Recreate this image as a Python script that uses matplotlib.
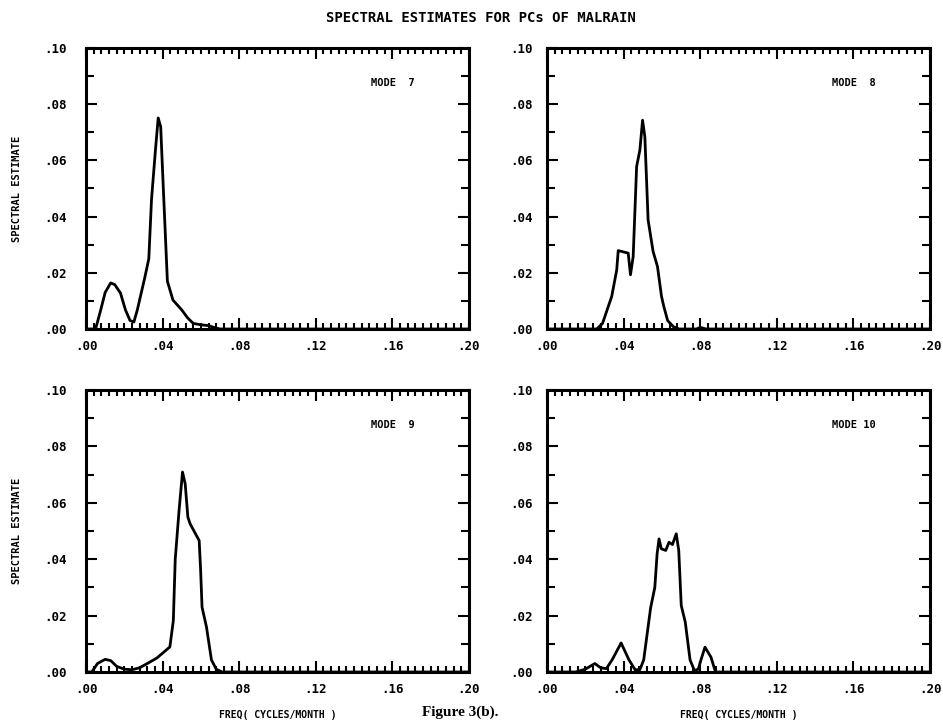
import matplotlib
matplotlib.use('Agg')
import matplotlib.pyplot as plt
import numpy as np
from matplotlib.ticker import MultipleLocator, FuncFormatter

# spectral estimates (freq in cycles/month)
freq7 = [0.000, 0.005, 0.0077, 0.010, 0.0129, 0.015, 0.018, 0.0206, 0.023, 0.025, 0.0268,
         0.0307, 0.0328, 0.0342, 0.0363, 0.0377, 0.039, 0.0404, 0.0425, 0.0454, 0.050,
         0.053, 0.056, 0.060, 0.064, 0.067, 0.070, 0.200]
spec7 = [0.000, 0.000, 0.0068, 0.013, 0.0164, 0.0158, 0.0128, 0.0068, 0.003, 0.0025, 0.0068,
         0.0183, 0.025, 0.046, 0.064, 0.0751, 0.072, 0.0497, 0.017, 0.0103, 0.0068,
         0.004, 0.002, 0.0015, 0.0012, 0.0005, 0.000, 0.000]

freq8 = [0.000, 0.026, 0.029, 0.032, 0.0338, 0.0364, 0.0372, 0.0424, 0.0436, 0.045, 0.0468,
         0.0485, 0.0499, 0.0511, 0.0528, 0.0554, 0.0577, 0.0598, 0.061, 0.063, 0.066,
         0.069, 0.078, 0.080, 0.083, 0.200]
spec8 = [0.000, 0.000, 0.002, 0.008, 0.0116, 0.021, 0.0279, 0.027, 0.0193, 0.0258, 0.0578,
         0.0637, 0.0743, 0.0684, 0.0388, 0.0276, 0.0222, 0.0116, 0.008, 0.003, 0.0008,
         0.000, 0.000, 0.0006, 0.000, 0.000]

freq9 = [0.000, 0.003, 0.006, 0.010, 0.013, 0.016, 0.020, 0.024, 0.028, 0.032, 0.0371,
         0.0438, 0.0456, 0.0466, 0.0486, 0.0504, 0.0518, 0.0532, 0.0544, 0.0591, 0.0598,
         0.0606, 0.0629, 0.0655, 0.068, 0.071, 0.200]
spec9 = [0.000, 0.000, 0.003, 0.0045, 0.004, 0.002, 0.001, 0.0008, 0.0015, 0.003, 0.005,
         0.0089, 0.0182, 0.040, 0.0573, 0.0709, 0.0667, 0.0549, 0.0525, 0.0466, 0.037,
         0.023, 0.016, 0.0043, 0.001, 0.000, 0.000]

freq10 = [0.000, 0.015, 0.020, 0.025, 0.028, 0.031, 0.034, 0.0387, 0.0428, 0.046, 0.0485,
          0.0505, 0.0541, 0.0563, 0.0575, 0.0585, 0.0597, 0.062, 0.0637, 0.0655, 0.0675,
          0.0688, 0.0701, 0.0722, 0.0747, 0.077, 0.079, 0.0804, 0.0825, 0.0856, 0.088, 0.200]
spec10 = [0.000, 0.000, 0.001, 0.003, 0.0015, 0.0012, 0.0043, 0.0103, 0.0043, 0.0008, 0.0008,
          0.0043, 0.0227, 0.030, 0.0419, 0.0472, 0.0437, 0.0431, 0.046, 0.0452, 0.049,
          0.0431, 0.0236, 0.0177, 0.0043, 0.0005, 0.001, 0.0043, 0.0088, 0.0053, 0.000, 0.000]

modes = [7, 8, 9, 10]
freqs = [freq7, freq8, freq9, freq10]
specs = [spec7, spec8, spec9, spec10]

mono = 'DejaVu Sans Mono'
fig = plt.figure(figsize=(9.43, 7.23), dpi=100)
W, H = 943.0, 723.0
# panel boxes in pixels: left, top, width, height
boxes = [(86, 48, 383, 281), (547, 48, 383, 281), (86, 390, 383, 282), (547, 390, 383, 282)]

fmt = FuncFormatter(lambda v, p: ('%.2f' % v)[1:] if v >= 0 else '%.2f' % v)

for i in range(4):
    x0, y0, w, h = boxes[i]
    ax = fig.add_axes([x0 / W, 1 - (y0 + h) / H, w / W, h / H])
    ax.plot(freqs[i], specs[i], color='black', lw=2.0, solid_joinstyle='round')
    ax.set_xlim(0, 0.2)
    ax.set_ylim(0, 0.1)
    ax.xaxis.set_major_locator(MultipleLocator(0.04))
    ax.xaxis.set_minor_locator(MultipleLocator(0.004))
    ax.yaxis.set_major_locator(MultipleLocator(0.02))
    ax.yaxis.set_minor_locator(MultipleLocator(0.01))
    ax.xaxis.set_major_formatter(fmt)
    ax.yaxis.set_major_formatter(fmt)
    ax.tick_params(which='both', direction='in', top=True, right=True, width=1.5)
    ax.tick_params(which='major', length=8, labelsize=9, pad=8)
    ax.tick_params(axis='y', which='major', pad=14 if i % 2 == 0 else 10)
    ax.tick_params(which='minor', length=4)
    ax.tick_params(axis='y', which='minor', length=6)
    for lab in ax.get_xticklabels() + ax.get_yticklabels():
        lab.set_family(mono)
        lab.set_fontweight('bold')
    for s in ax.spines.values():
        s.set_linewidth(2.2)
    ax.text(0.149, 0.0875, 'MODE %2d' % modes[i], family=mono, fontweight='bold', fontsize=7.5,
            va='center', ha='left')
    if i % 2 == 0:
        ax.set_ylabel('SPECTRAL ESTIMATE', family=mono, fontweight='bold', fontsize=7.5, labelpad=16)
    if i >= 2:
        ax.set_xlabel('FREQ( CYCLES/MONTH )', family=mono, fontweight='bold', fontsize=7, labelpad=10)

fig.text(0.51, 0.975, 'SPECTRAL ESTIMATES FOR PCs OF MALRAIN', family=mono, fontweight='bold',
         fontsize=10, ha='center', va='center')
fig.text(0.488, 0.015, 'Figure 3(b).', family='Liberation Serif', fontweight='bold',
         fontsize=11, ha='center', va='center')

fig.savefig('out.png', dpi=100)
